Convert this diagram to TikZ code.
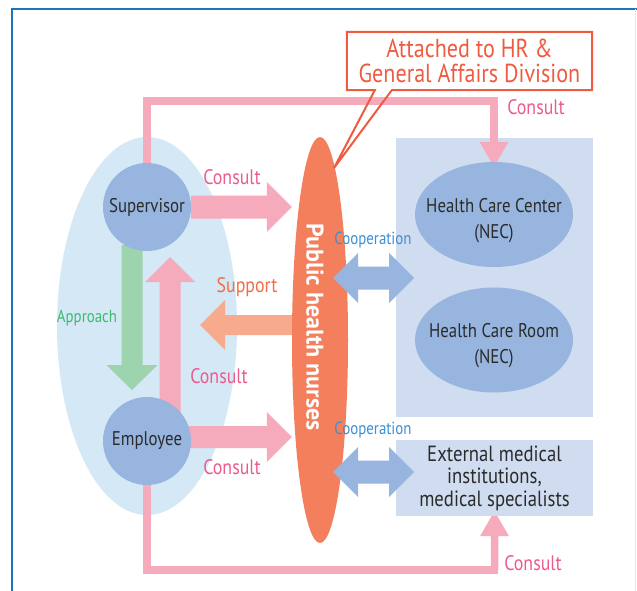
\documentclass[tikz,border=0pt]{standalone}
\usepackage{fontspec}
\setmainfont[FakeStretch=0.85]{PT Sans}
\newfontfamily\phnfont{PT Sans}
\usetikzlibrary{calc,shapes.geometric}
\definecolor{frameblue}{HTML}{1A75BC}
\definecolor{frameright}{HTML}{DCE7F2}
\definecolor{pinkc}{HTML}{F5ABBB}
\definecolor{pinktext}{HTML}{EC5B8D}
\definecolor{salmon}{HTML}{F8AA8C}
\definecolor{supporttext}{HTML}{F06E45}
\definecolor{phnorange}{HTML}{F47F5C}
\definecolor{callred}{HTML}{F05A40}
\definecolor{grpblue}{HTML}{D4E8F6}
\definecolor{nodeblue}{HTML}{97B5DE}
\definecolor{hcblue}{HTML}{D0DDF0}
\definecolor{coopblue}{HTML}{3D8FD1}
\definecolor{greenarrow}{HTML}{9DD3AD}
\definecolor{greentext}{HTML}{3DBB6E}
\definecolor{textdark}{HTML}{2B2B2B}
\pgfdeclarelayer{bg}\pgfdeclarelayer{mid}
\pgfsetlayers{bg,mid,main}
% block arrow: #1 start, #2 tip, #3 shaft width, #4 head width, #5 head length, #6 colour
\newcommand\blockarr[6]{%
  \coordinate (ba-c) at ($(#2)!#5!(#1)$);
  \fill[#6] ($(#1)!#3/2!90:(#2)$) -- ($(ba-c)!#3/2!90:(#2)$) -- ($(ba-c)!#4/2!90:(#2)$) -- (#2)
    -- ($(ba-c)!#4/2!-90:(#2)$) -- ($(ba-c)!#3/2!-90:(#2)$) -- ($(#1)!#3/2!-90:(#2)$) -- cycle;}
% double block arrow
\newcommand\dblarr[6]{%
  \coordinate (da-c1) at ($(#2)!#5!(#1)$);
  \coordinate (da-c2) at ($(#1)!#5!(#2)$);
  \fill[#6] (#1) -- ($(da-c2)!#4/2!90:(#2)$) -- ($(da-c2)!#3/2!90:(#2)$) -- ($(da-c1)!#3/2!90:(#2)$)
    -- ($(da-c1)!#4/2!90:(#2)$) -- (#2) -- ($(da-c1)!#4/2!-90:(#2)$) -- ($(da-c1)!#3/2!-90:(#2)$)
    -- ($(da-c2)!#3/2!-90:(#2)$) -- ($(da-c2)!#4/2!-90:(#2)$) -- cycle;}
\tikzset{
  person/.style={circle, fill=nodeblue, minimum size=88pt, inner sep=0pt, text=textdark,
    font=\fontsize{19.8}{23}\selectfont},
  hcshape/.style={ellipse, fill=nodeblue, minimum width=158pt, minimum height=105pt, inner sep=0pt},
  hctext/.style={inner sep=0pt, text=textdark, align=center, font=\fontsize{19.8}{26}\selectfont},
  pinkline/.style={draw=pinkc, line width=7.5pt, line join=miter},
  lbl/.style={inner sep=0pt, font=\fontsize{21}{24}\selectfont},
  slbl/.style={inner sep=0pt, font=\fontsize{17.5}{20}\selectfont},
}
\begin{document}
\begin{tikzpicture}[x=1pt, y=-1pt]
\useasboundingbox (0,0) rectangle (637,591);

\begin{pgfonlayer}{bg}
\fill[white] (0,0) rectangle (637,591);
\node[ellipse, fill=grpblue, minimum width=180pt, minimum height=378pt, inner sep=0pt] (grp) at (147,326) {};
\node[fill=hcblue, minimum width=197pt, minimum height=279pt, inner sep=0pt] (hcgroup) at (494.5,277.5) {};
\end{pgfonlayer}

% frame
\draw[frameblue, line width=2pt] (12,591) -- (12,9) -- (637,9);
\draw[frameright, line width=1pt] (635.5,9) -- (635.5,591);

% nodes
\node[person] (sup) at (147,207) {Supervisor};
\node[person] (emp) at (147,441) {Employee};
\node[ellipse, fill=phnorange, minimum width=56pt, minimum height=406pt, inner sep=0pt] (phn) at (320,340) {};
\node[rotate=-90, text=white, inner sep=0pt, font=\phnfont\fontsize{24}{28}\selectfont\bfseries] (phntext) at (315,327) {Public health nurses};
\node[hcshape] (hcc) at (494,214.5) {};
\node[hctext] (hcct) at ($(hcc)+(0,6)$) {Health Care Center\\(NEC)};
\node[hcshape] (hcr) at (494,340) {};
\node[hctext] (hcrt) at ($(hcr)+(0,6)$) {Health Care Room\\(NEC)};
\node[fill=hcblue, minimum width=197pt, minimum height=76pt, inner sep=0pt, text=textdark, align=center,
  font=\fontsize{22}{22.5}\selectfont] (ext) at (494.5,478) {External medical\\institutions,\\medical specialists};

% callout
\node[fill=white, minimum width=245pt, minimum height=58pt, inner sep=0pt, text=callred, align=center,
  font=\fontsize{26}{25}\selectfont] (callout) at (469.5,61) {Attached to HR \&\\General Affairs Division};
\coordinate (ptip) at (334,168);
\draw[callred, line width=2pt, line join=miter] (callout.south west) -- (callout.north west) -- (callout.north east)
  -- (callout.south east) -- ($(callout.south west)+(45,0)$) -- (ptip) -- ($(callout.south west)+(28,0)$) -- cycle;

% connectors under the nodes
\begin{pgfonlayer}{mid}
\coordinate (topy) at (0,101);
\coordinate (tc) at (topy -| hcc.north);
\coordinate (hcctip) at ($(hcc.north)+(0,5)$);
\draw[pinkline, shorten >=20pt] (sup.north) |- (tc) -- (hcctip);
\blockarr{tc}{hcctip}{7.5pt}{29pt}{25pt}{pinkc}
\coordinate (boty) at (0,570);
\coordinate (bc) at (boty -| ext.south);
\coordinate (exttip) at ($(ext.south)+(0,-5)$);
\draw[pinkline, shorten >=20pt] (emp.south) |- (bc) -- (exttip);
\blockarr{bc}{exttip}{7.5pt}{29pt}{25pt}{pinkc}
% supervisor -> nurses
\coordinate (a1e) at (sup.east -| phn.west);
\blockarr{sup.east}{a1e}{23pt}{50pt}{25pt}{pinkc}
% employee -> nurses
\coordinate (a2s) at (147,437);
\coordinate (a2e) at (a2s -| phn.west);
\blockarr{a2s}{a2e}{22pt}{50pt}{25pt}{pinkc}
% employee -> supervisor
\coordinate (a3s) at (170,437);
\coordinate (a3e) at (170,257);
\blockarr{a3s}{a3e}{21pt}{50pt}{25pt}{pinkc}
% support
\coordinate (sps) at (320,325);
\coordinate (spe) at (200,325);
\blockarr{sps}{spe}{20pt}{50pt}{25pt}{salmon}
% approach
\coordinate (aps) at (132,245);
\coordinate (ape) at (132,390);
\blockarr{aps}{ape}{21pt}{51pt}{25pt}{greenarrow}
\end{pgfonlayer}

% cooperation arrows (on top)
\coordinate (c1l) at (333,278);
\coordinate (c1r) at (414,278);
\dblarr{c1l}{c1r}{23pt}{50pt}{25pt}{nodeblue}
\coordinate (c2l) at (333,472);
\coordinate (c2r) at (414,472);
\dblarr{c2l}{c2r}{23pt}{50pt}{25pt}{nodeblue}

% labels
\node[lbl, text=pinktext] (l1) at (536,107) {Consult};
\node[lbl, text=pinktext] (l2) at (232,177) {Consult};
\node[lbl, text=pinktext] (l3) at (219,376) {Consult};
\node[lbl, text=pinktext] (l4) at (232,467) {Consult};
\node[lbl, text=pinktext] (l5) at (533,563) {Consult};
\node[lbl, text=supporttext] (l6) at (247,287) {Support};
\node[slbl, text=greentext] (l7) at (87,318) {Approach};
\node[slbl, text=coopblue] (l8) at (373,240) {Cooperation};
\node[slbl, text=coopblue] (l9) at (373,430) {Cooperation};
\end{tikzpicture}
\end{document}
